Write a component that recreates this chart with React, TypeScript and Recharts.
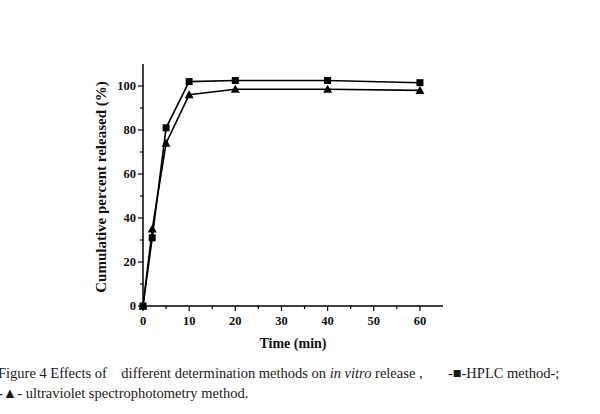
import { LineChart, Line, XAxis, YAxis, Label } from "recharts";

const times = [0, 2, 5, 10, 20, 40, 60];
const hplc = [0, 31, 81, 102, 102.5, 102.5, 101.5];
const uv = [0, 35, 74, 96, 98.5, 98.5, 98];

const xTicks = [0, 5, 10, 15, 20, 25, 30, 35, 40, 45, 50, 55, 60];
const yTicks = [0, 10, 20, 30, 40, 50, 60, 70, 80, 90, 100];

const data = times.map((t, i) => ({ time: t, hplc: hplc[i], uv: uv[i] }));

const FONT = '"Liberation Serif", "Times New Roman", serif';

function XTick(props: any) {
  const { x, y, payload } = props;
  const major = payload.value % 10 === 0;
  return (
    <g>
      <line x1={x} y1={y} x2={x} y2={y + (major ? 5 : 3)} stroke="#000" strokeWidth={1.2} />
      {major && (
        <text x={x} y={y + 19} textAnchor="middle" fontFamily={FONT} fontWeight="bold" fontSize={12.5} fill="#111">
          {payload.value}
        </text>
      )}
    </g>
  );
}

function YTick(props: any) {
  const { x, y, payload } = props;
  const major = payload.value % 20 === 0;
  return (
    <g>
      <line x1={x} y1={y} x2={x - (major ? 5 : 3)} y2={y} stroke="#000" strokeWidth={1.2} />
      {major && (
        <text x={x - 7} y={y + 4} textAnchor="end" fontFamily={FONT} fontWeight="bold" fontSize={12.5} fill="#111">
          {payload.value}
        </text>
      )}
    </g>
  );
}

function SquareDot(props: any) {
  const { cx, cy } = props;
  if (cx == null || cy == null) return <g />;
  return <rect x={cx - 3.5} y={cy - 3.5} width={7} height={7} fill="#000" />;
}

function TriangleDot(props: any) {
  const { cx, cy } = props;
  if (cx == null || cy == null) return <g />;
  return <path d={`M${cx},${cy - 4.5} L${cx + 4.5},${cy + 3.5} L${cx - 4.5},${cy + 3.5} Z`} fill="#000" />;
}

export default function App() {
  return (
    <div style={{ position: "absolute", left: 0, top: 0, width: 600, height: 414, background: "#fff", overflow: "hidden" }}>
      <LineChart width={600} height={414} data={data} margin={{ top: 64, right: 157, left: 103, bottom: 78 }}>
        <XAxis
          dataKey="time"
          type="number"
          domain={[0, 65]}
          ticks={xTicks}
          tick={<XTick />}
          tickLine={false}
          tickSize={0}
          tickMargin={0}
          height={30}
          axisLine={{ stroke: "#000", strokeWidth: 1.5 }}
          interval={0}
        >
          <Label
            content={() => (
              <text x={293} y={348} textAnchor="middle" fontFamily={FONT} fontWeight="bold" fontSize={14} fill="#111">
                Time (min)
              </text>
            )}
          />
        </XAxis>
        <YAxis
          type="number"
          domain={[0, 110]}
          ticks={yTicks}
          tick={<YTick />}
          tickLine={false}
          tickSize={0}
          tickMargin={0}
          width={40}
          axisLine={{ stroke: "#000", strokeWidth: 1.5 }}
          interval={0}
        >
          <Label
            content={() => (
              <text
                x={101}
                y={187}
                transform="rotate(-90 101 187)"
                textAnchor="middle"
                dominantBaseline="central"
                fontFamily={FONT}
                fontWeight="bold"
                fontSize={15}
                fill="#111"
              >
                Cumulative percent released (%)
              </text>
            )}
          />
        </YAxis>
        <Line
          dataKey="hplc"
          stroke="#000"
          strokeWidth={1.6}
          dot={<SquareDot />}
          activeDot={false}
          isAnimationActive={false}
        />
        <Line
          dataKey="uv"
          stroke="#000"
          strokeWidth={1.6}
          dot={<TriangleDot />}
          activeDot={false}
          isAnimationActive={false}
        />
      </LineChart>
      <div
        style={{
          position: "absolute",
          left: -2,
          top: 363,
          fontFamily: FONT,
          fontSize: 14.5,
          lineHeight: "20px",
          whiteSpace: "pre",
          color: "#1a1a1a",
        }}
      >
        <div>
          {"Figure 4 Effects of    different determination methods on "}
          <i>in vitro</i>
          {" release ,       -■-HPLC method-;"}
        </div>
        <div>{"-▲- ultraviolet spectrophotometry method."}</div>
      </div>
    </div>
  );
}
